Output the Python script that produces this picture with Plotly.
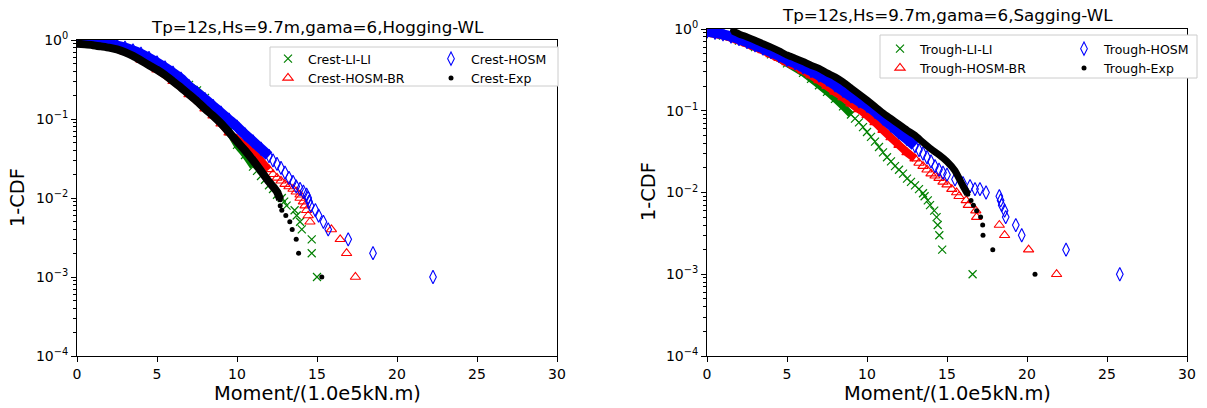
import plotly.graph_objects as go

# ---------------- data ----------------
# "body" = dense part of each exceedance curve (markers merge into a band)
# "pts"  = sparser individual points further down the tail
# Left panel : Hogging-WL (crest)
hog_lili_body_x = [0, 1, 2, 3, 4, 5, 6, 7, 7.5, 8, 8.5, 9, 9.5, 10, 10.5, 11]
hog_lili_body_p = [0.95, 0.90, 0.84, 0.75, 0.62, 0.48, 0.36, 0.27, 0.23, 0.185, 0.14, 0.10, 0.07, 0.047, 0.035, 0.025]
hog_lili_pts_x = [11.25, 11.5, 11.75, 12.0, 12.25, 12.5, 12.8, 12.95, 13.1, 13.6, 13.73, 13.94, 14.05, 14.67, 14.67, 15.0]
hog_lili_pts_p = [0.022, 0.019, 0.017, 0.0145, 0.013, 0.011, 0.010, 0.009, 0.008, 0.007, 0.006, 0.005, 0.004, 0.003, 0.002, 0.001]

hog_br_body_x = [0, 1, 2, 3, 4, 5, 6, 7, 8, 8.5, 9, 9.5, 10, 10.5, 11, 11.5, 12]
hog_br_body_p = [0.92, 0.87, 0.81, 0.71, 0.56, 0.42, 0.30, 0.205, 0.135, 0.11, 0.087, 0.067, 0.056, 0.047, 0.038, 0.030, 0.023]
hog_br_pts_x = [12.25, 12.5, 12.75, 13.0, 13.25, 13.5, 13.7, 13.94, 13.94, 14.15, 14.25, 14.35, 14.45, 14.56, 15.9, 16.45, 16.85, 17.4]
hog_br_pts_p = [0.020, 0.018, 0.0165, 0.015, 0.014, 0.013, 0.012, 0.011, 0.010, 0.009, 0.008, 0.007, 0.006, 0.005, 0.004, 0.003, 0.002, 0.001]

hog_hosm_body_x = [0, 0.5, 1, 1.5, 2, 2.5, 3, 3.5, 4, 4.5, 5, 5.5, 6, 6.5, 7, 7.5, 8, 8.5, 9, 9.5, 10, 10.5, 11, 11.5, 12]
hog_hosm_body_p = [0.98, 0.965, 0.945, 0.92, 0.89, 0.85, 0.80, 0.74, 0.67, 0.595, 0.52, 0.45, 0.385, 0.325, 0.26, 0.215, 0.178, 0.146, 0.12, 0.098, 0.08, 0.064, 0.052, 0.042, 0.034]
hog_hosm_pts_x = [12.25, 12.5, 12.75, 13.0, 13.25, 13.5, 13.7, 13.94, 14.15, 14.35, 14.45, 14.5, 14.6, 14.9, 15.1, 15.4, 15.7, 16.95, 18.5, 22.25]
hog_hosm_pts_p = [0.030, 0.027, 0.024, 0.021, 0.018, 0.016, 0.014, 0.013, 0.012, 0.011, 0.010, 0.009, 0.008, 0.007, 0.006, 0.005, 0.004, 0.003, 0.002, 0.001]

hog_exp_body_x = [0, 0.5, 1, 1.5, 2, 2.5, 3, 3.5, 4, 4.5, 5, 5.5, 6, 6.5, 7, 7.5, 8, 8.5, 9, 9.5, 10, 10.5, 11, 11.5, 12, 12.5, 12.7]
hog_exp_body_p = [0.90, 0.88, 0.86, 0.83, 0.80, 0.76, 0.70, 0.63, 0.55, 0.48, 0.42, 0.36, 0.30, 0.25, 0.205, 0.168, 0.135, 0.11, 0.088, 0.068, 0.052, 0.040, 0.030, 0.022, 0.016, 0.012, 0.0095]
hog_exp_pts_x = [12.7, 12.8, 13.05, 13.3, 13.45, 13.7, 13.85, 15.3]
hog_exp_pts_p = [0.008, 0.007, 0.006, 0.005, 0.004, 0.003, 0.002, 0.001]

# Right panel : Sagging-WL (trough)
sag_lili_body_x = [0, 1, 2, 3, 4, 5, 6, 6.5, 7, 7.5, 8, 8.5, 9]
sag_lili_body_p = [0.90, 0.83, 0.72, 0.60, 0.49, 0.38, 0.29, 0.245, 0.205, 0.17, 0.14, 0.113, 0.09]
sag_lili_pts_x = [9.25, 9.5, 9.75, 10, 10.25, 10.5, 10.75, 11, 11.25, 11.5, 11.75, 12, 12.25, 12.5, 12.75, 13, 13.25, 13.5, 13.6, 13.8, 13.94, 14.2, 14.35, 14.42, 14.52, 14.7, 16.6]
sag_lili_pts_p = [0.08, 0.072, 0.063, 0.055, 0.048, 0.042, 0.036, 0.031, 0.027, 0.024, 0.021, 0.019, 0.017, 0.0148, 0.0135, 0.0122, 0.011, 0.0098, 0.009, 0.008, 0.007, 0.006, 0.005, 0.004, 0.003, 0.002, 0.001]

sag_br_body_x = [0, 0.5, 1, 1.5, 2, 2.5, 3, 3.5, 4, 4.5, 5, 5.5, 6, 6.5, 7, 7.5, 8, 8.5, 9, 9.5, 10, 10.5, 11, 11.5, 12, 12.5, 13]
sag_br_body_p = [0.90, 0.87, 0.83, 0.78, 0.72, 0.66, 0.60, 0.545, 0.49, 0.44, 0.39, 0.35, 0.31, 0.27, 0.235, 0.20, 0.17, 0.145, 0.122, 0.104, 0.088, 0.072, 0.058, 0.047, 0.038, 0.031, 0.026]
sag_br_pts_x = [13.25, 13.5, 13.75, 14, 14.25, 14.5, 14.75, 15, 15.3, 15.6, 15.75, 16.2, 16.33, 16.8, 16.85, 18.27, 18.6, 20.1, 21.85]
sag_br_pts_p = [0.023, 0.021, 0.019, 0.017, 0.016, 0.015, 0.0135, 0.0125, 0.011, 0.010, 0.009, 0.008, 0.007, 0.006, 0.005, 0.004, 0.003, 0.002, 0.001]

sag_hosm_body_x = [0, 0.5, 1, 1.5, 2, 2.5, 3, 3.5, 4, 4.5, 5, 5.5, 6, 6.5, 7, 7.5, 8, 8.5, 9, 9.5, 10, 10.5, 11, 11.5, 12, 12.5, 13]
sag_hosm_body_p = [0.93, 0.90, 0.86, 0.81, 0.75, 0.69, 0.63, 0.575, 0.52, 0.47, 0.42, 0.38, 0.34, 0.305, 0.27, 0.24, 0.205, 0.175, 0.15, 0.13, 0.115, 0.097, 0.08, 0.066, 0.054, 0.045, 0.037]
sag_hosm_pts_x = [13.25, 13.5, 13.75, 14, 14.25, 14.5, 14.75, 15, 15.5, 16, 16.44, 16.75, 17.06, 17.44, 18.27, 18.35, 18.42, 18.6, 18.67, 19.3, 19.67, 22.44, 25.8]
sag_hosm_pts_p = [0.033, 0.03, 0.027, 0.024, 0.021, 0.019, 0.0175, 0.0165, 0.0145, 0.013, 0.012, 0.011, 0.011, 0.010, 0.009, 0.008, 0.007, 0.006, 0.005, 0.004, 0.003, 0.002, 0.001]

sag_exp_body_x = [1.6, 2, 2.5, 3, 3.5, 4, 4.5, 5, 5.5, 6, 6.5, 7, 7.5, 8, 8.5, 9, 9.5, 10, 10.5, 11, 11.5, 12, 12.5, 13, 13.5, 14, 14.5, 15, 15.5, 16, 16.3]
sag_exp_body_p = [0.95, 0.87, 0.80, 0.73, 0.66, 0.60, 0.54, 0.48, 0.44, 0.40, 0.36, 0.33, 0.29, 0.26, 0.225, 0.19, 0.16, 0.135, 0.113, 0.094, 0.08, 0.068, 0.058, 0.05, 0.041, 0.034, 0.029, 0.024, 0.0185, 0.012, 0.0095]
sag_exp_pts_x = [16.5, 16.65, 16.85, 17.1, 17.23, 17.25, 17.86, 20.5]
sag_exp_pts_p = [0.008, 0.007, 0.006, 0.005, 0.004, 0.003, 0.002, 0.001]

y_tick_vals = [1e-4, 1e-3, 1e-2, 1e-1, 1]
y_tick_text = ["10<sup>−4</sup>", "10<sup>−3</sup>", "10<sup>−2</sup>", "10<sup>−1</sup>", "10<sup>0</sup>"]
x_tick_vals = [0, 5, 10, 15, 20, 25, 30]

FONT = "DejaVu Sans"
GREEN, RED, BLUE, BLACK = "#008000", "#ff0000", "#0000ff", "#000000"

fig = go.Figure()


def add_series(xa, ya, bx, bp, tx, tp, name, color, symbol, size, lw, band, legend):
    fig.add_trace(go.Scatter(
        x=bx, y=bp, mode="lines", xaxis=xa, yaxis=ya, showlegend=False,
        line=dict(color=color, width=band, shape="spline", smoothing=0.6),
        hoverinfo="skip"))
    fig.add_trace(go.Scatter(
        x=bx + tx, y=bp + tp, mode="markers", xaxis=xa, yaxis=ya, name=name,
        legend=legend,
        marker=dict(symbol=symbol, size=size, color=color,
                    line=dict(color=color, width=lw))))


# left
add_series("x", "y", hog_lili_body_x, hog_lili_body_p, hog_lili_pts_x, hog_lili_pts_p,
           "Crest-LI-LI", GREEN, "x-thin-open", 8, 1.2, 7, "legend")
add_series("x", "y", hog_br_body_x, hog_br_body_p, hog_br_pts_x, hog_br_pts_p,
           "Crest-HOSM-BR", RED, "triangle-up-open", 9, 1.1, 7, "legend")
add_series("x", "y", hog_hosm_body_x, hog_hosm_body_p, hog_hosm_pts_x, hog_hosm_pts_p,
           "Crest-HOSM", BLUE, "diamond-tall-open", 9.5, 1.1, 10, "legend2")
add_series("x", "y", hog_exp_body_x, hog_exp_body_p, hog_exp_pts_x, hog_exp_pts_p,
           "Crest-Exp", BLACK, "circle", 5, 0, 8, "legend2")
# right
add_series("x2", "y2", sag_lili_body_x, sag_lili_body_p, sag_lili_pts_x, sag_lili_pts_p,
           "Trough-LI-LI", GREEN, "x-thin-open", 8, 1.2, 7, "legend3")
add_series("x2", "y2", sag_br_body_x, sag_br_body_p, sag_br_pts_x, sag_br_pts_p,
           "Trough-HOSM-BR", RED, "triangle-up-open", 9, 1.1, 8, "legend3")
add_series("x2", "y2", sag_hosm_body_x, sag_hosm_body_p, sag_hosm_pts_x, sag_hosm_pts_p,
           "Trough-HOSM", BLUE, "diamond-tall-open", 9.5, 1.1, 10, "legend4")
add_series("x2", "y2", sag_exp_body_x, sag_exp_body_p, sag_exp_pts_x, sag_exp_pts_p,
           "Trough-Exp", BLACK, "circle", 5, 0, 7, "legend4")

W, H = 1207, 408
ML, MR, MT, MB = 77, 20, 29, 52
PW, PH = W - ML - MR, H - MT - MB


def px(xp):
    return (xp - ML) / PW


def py(yp):
    return (H - MB - yp) / PH


minor_vals = [m * 10 ** e for e in range(-4, 0) for m in range(2, 10)]

xcommon = dict(range=[0, 30], tickvals=x_tick_vals, ticks="outside", ticklen=5, tickwidth=1,
               tickcolor="black", showline=True, linecolor="black", linewidth=1, mirror=True,
               showgrid=False, zeroline=False, tickfont=dict(family=FONT, size=14, color="black"))
ycommon = dict(type="log", range=[-4, 0], tickvals=y_tick_vals, ticktext=y_tick_text,
               ticks="outside", ticklen=5, tickwidth=1, tickcolor="black", showline=True,
               linecolor="black", linewidth=1, mirror=True, showgrid=False, zeroline=False,
               tickfont=dict(family=FONT, size=14, color="black"),
               minor=dict(tickvals=minor_vals, ticks="outside", ticklen=3, tickcolor="black",
                          tickwidth=0.8, showgrid=False))

leg = dict(orientation="v", xanchor="left", yanchor="top", bgcolor="rgba(0,0,0,0)",
           borderwidth=0, font=dict(family=FONT, size=12.5, color="black"), tracegroupgap=0)

fig.update_layout(
    width=W, height=H, margin=dict(l=ML, r=MR, t=MT, b=MB, pad=0),
    paper_bgcolor="white", plot_bgcolor="white",
    font=dict(family=FONT, color="black"),
    xaxis=dict(domain=[0, px(557)], anchor="y", **xcommon),
    yaxis=dict(domain=[0, py(40)], anchor="x", **ycommon),
    xaxis2=dict(domain=[px(707), 1], anchor="y2", **xcommon),
    yaxis2=dict(domain=[0, 1], anchor="x2", **ycommon),
    legend=dict(x=px(268), y=py(44), **leg),
    legend2=dict(x=px(431), y=py(44), **leg),
    legend3=dict(x=px(880), y=py(34), **leg),
    legend4=dict(x=px(1064), y=py(34), **leg),
    shapes=[
        dict(type="rect", xref="paper", yref="paper", x0=px(270), x1=px(558), y0=py(86), y1=py(47),
             line=dict(color="#cccccc", width=1), fillcolor="white", layer="above"),
        dict(type="rect", xref="paper", yref="paper", x0=px(880), x1=px(1197), y0=py(78), y1=py(35),
             line=dict(color="#cccccc", width=1), fillcolor="white", layer="above"),
    ],
    annotations=[
        dict(text="Tp=12s,Hs=9.7m,gama=6,Hogging-WL", x=px(317), y=py(27), xref="paper", yref="paper",
             showarrow=False, xanchor="center", yanchor="middle", font=dict(family=FONT, size=16.7)),
        dict(text="Tp=12s,Hs=9.7m,gama=6,Sagging-WL", x=px(947), y=py(15), xref="paper", yref="paper",
             showarrow=False, xanchor="center", yanchor="middle", font=dict(family=FONT, size=16.7)),
        dict(text="Moment/(1.0e5kN.m)", x=px(317), y=py(393), xref="paper", yref="paper",
             showarrow=False, xanchor="center", yanchor="middle", font=dict(family=FONT, size=19.4)),
        dict(text="Moment/(1.0e5kN.m)", x=px(947), y=py(393), xref="paper", yref="paper",
             showarrow=False, xanchor="center", yanchor="middle", font=dict(family=FONT, size=19.4)),
        dict(text="1-CDF", x=px(18), y=py(198), xref="paper", yref="paper", textangle=-90,
             showarrow=False, xanchor="center", yanchor="middle", font=dict(family=FONT, size=19.4)),
        dict(text="1-CDF", x=px(648), y=py(192), xref="paper", yref="paper", textangle=-90,
             showarrow=False, xanchor="center", yanchor="middle", font=dict(family=FONT, size=19.4)),
    ],
)

fig.write_html("out.html")
